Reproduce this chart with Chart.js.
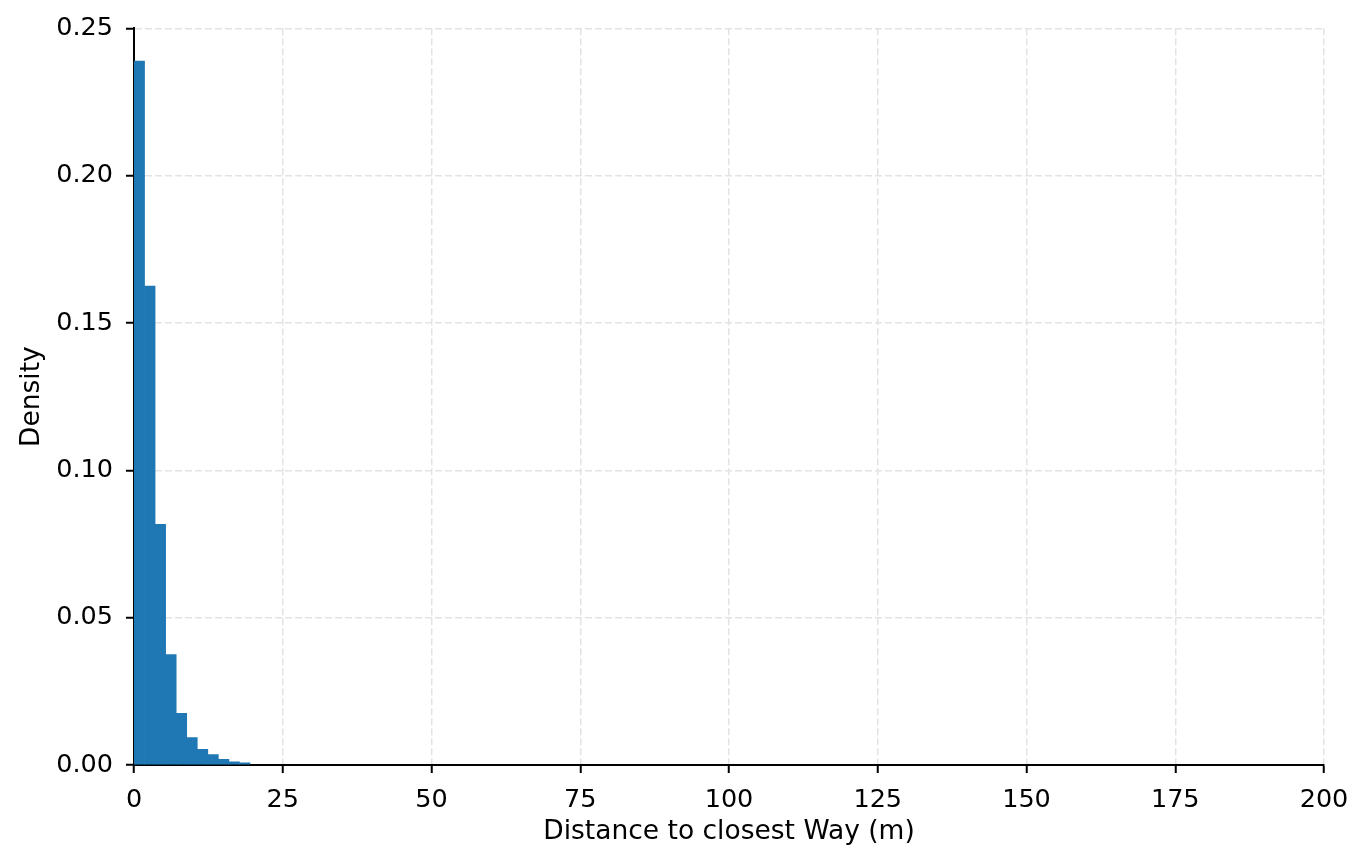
<!DOCTYPE html>
<html>
<head>
<meta charset="utf-8">
<script src="https://cdn.jsdelivr.net/npm/chart.js@4/dist/chart.umd.min.js"></script>
<style>
  html, body { margin: 0; padding: 0; background: #ffffff; }
  #wrap { width: 1369px; height: 866px; }
</style>
</head>
<body>
<div id="wrap"><canvas id="c" width="1369" height="866"></canvas></div>
<script>
// Histogram bin centers (m) and density values
const binCenters = [0.886, 2.658, 4.430, 6.202, 7.974, 9.746, 11.518, 13.290, 15.062, 16.834, 18.606];
const densities  = [0.2389, 0.1625, 0.0817, 0.0375, 0.0175, 0.0093, 0.0053, 0.0035, 0.0019, 0.0011, 0.0007];
const xTicks = [0, 25, 50, 75, 100, 125, 150, 175, 200];
const yTicks = [0.00, 0.05, 0.10, 0.15, 0.20, 0.25];
const xTitle = 'Distance to closest Way (m)';
const yTitle = 'Density';

const FONT = "'DejaVu Sans', sans-serif";
const TICK_SIZE = 25.5;
const TITLE_SIZE = 26.5;
const points = binCenters.map((x, i) => ({ x: x, y: densities[i] }));

new Chart(document.getElementById('c'), {
  type: 'bar',
  data: {
    datasets: [{
      data: points,
      backgroundColor: '#1f77b4',
      borderWidth: 0,
      barPercentage: 1.0,
      categoryPercentage: 1.0,
      grouped: false
    }]
  },
  options: {
    responsive: false,
    animation: false,
    devicePixelRatio: 1,
    layout: { padding: { top: 28, right: 45, left: 0, bottom: 0 } },
    plugins: { legend: { display: false }, tooltip: { enabled: false } },
    scales: {
      x: {
        type: 'linear',
        min: xTicks[0],
        max: xTicks[xTicks.length - 1],
        offset: false,
        afterBuildTicks: (s) => { s.ticks = xTicks.map(v => ({ value: v })); },
        afterFit: (s) => { s.height = 101; },
        ticks: {
          color: '#000',
          font: { family: FONT, size: TICK_SIZE },
          padding: 12,
          maxRotation: 0,
          autoSkip: false,
          callback: (v) => String(v)
        },
        grid: {
          offset: false,
          color: '#e3e3e3',
          lineWidth: 1.5,
          drawTicks: true,
          tickLength: 8,
          tickWidth: 2,
          tickColor: '#000',
          tickBorderDash: []
        },
        border: { display: true, color: '#000', width: 2, dash: [7, 3] },
        title: {
          display: true,
          text: xTitle,
          color: '#000',
          font: { family: FONT, size: TITLE_SIZE },
          padding: { top: 0, bottom: 18 }
        }
      },
      y: {
        type: 'linear',
        min: yTicks[0],
        max: yTicks[yTicks.length - 1],
        afterBuildTicks: (s) => { s.ticks = yTicks.map(v => ({ value: v })); },
        afterFit: (s) => { s.width = 134; },
        ticks: {
          color: '#000',
          font: { family: FONT, size: TICK_SIZE },
          padding: 13,
          autoSkip: false,
          callback: (v) => Number(v).toFixed(2)
        },
        grid: {
          offset: false,
          color: '#e3e3e3',
          lineWidth: 1.5,
          drawTicks: true,
          tickLength: 8,
          tickWidth: 2,
          tickColor: '#000',
          tickBorderDash: []
        },
        border: { display: true, color: '#000', width: 2, dash: [7, 3] },
        title: {
          display: true,
          text: yTitle,
          color: '#000',
          font: { family: FONT, size: TITLE_SIZE },
          padding: { top: 16, bottom: 0 }
        }
      }
    }
  }
});
</script>
</body>
</html>
